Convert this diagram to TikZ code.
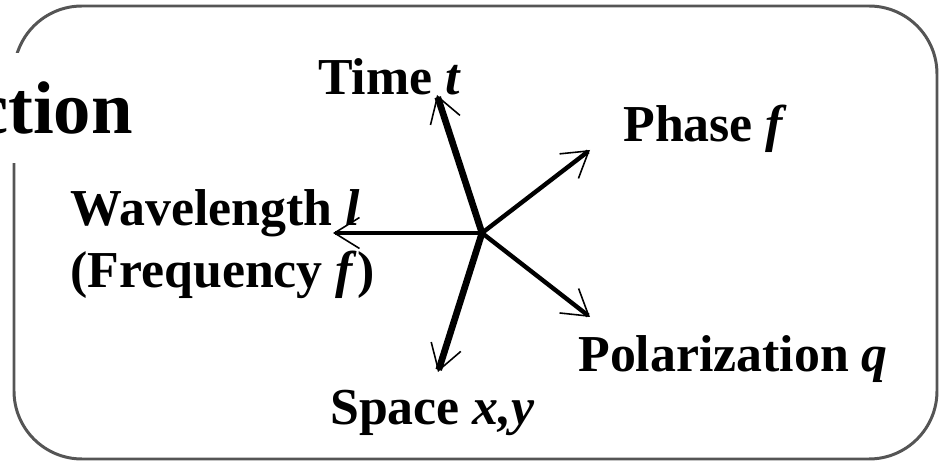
\documentclass[tikz,border=0pt]{standalone}
\usepackage{fontspec}
\setmainfont{Liberation Serif}
\usetikzlibrary{arrows.meta}
\definecolor{cadre}{HTML}{555555}
\tikzset{
  lbl/.style={font=\fontsize{29.5}{35}\selectfont\bfseries, inner sep=0pt, anchor=base west},
  axe/.style={line width=2.5pt, -{Straight Barb[length=0.5cm,width=0.62cm,line width=0.9pt]}},
  axegros/.style={axe, line width=3.8pt}
}
\begin{document}
\begin{tikzpicture}[x=0.02cm,y=-0.02cm]
	\useasboundingbox (0,0) rectangle (941,462);
	\clip (0,0) rectangle (941,462);

	%cadre
	\draw[cadre, line width=1.7pt, rounded corners=1.36cm] (14,6) rectangle (937,459);
	%titre (coupe)
	\node[font=\fontsize{42.5}{50}\selectfont\bfseries, fill=white, inner sep=0pt,
	      text height=1.62cm, text depth=0.58cm, anchor=base east] (titre) at (133,134) {Detection};

	% axes
	\coordinate (c) at (482,233);
	\coordinate (tt) at (437,95);
	\coordinate (tp) at (590,150);
	\coordinate (tw) at (333,233);
	\coordinate (tq) at (590,317);
	\coordinate (ts) at (438,372);
	\draw[axegros] (c) -- (tt);
	\draw[axe] (c) -- (tp);
	\draw[axe] (c) -- (tw);
	\draw[axe] (c) -- (tq);
	\draw[axegros] (c) -- (ts);

	%%% labels
	\node[lbl] (time) at (318,95) {Time \textit{t}};
	\node[lbl] (phase) at (623,142) {Phase \textit{f}};
	\node[lbl] (wave) at (70,226) {Wavelength \textit{l}};
	\node[lbl] (freq) at (70,288) {(Frequency \textit{f})};
	\node[lbl] (polar) at (578,372) {Polarization \textit{q}};
	\node[lbl] (space) at (330,425) {Space \textit{x,y}};
\end{tikzpicture}
\end{document}
